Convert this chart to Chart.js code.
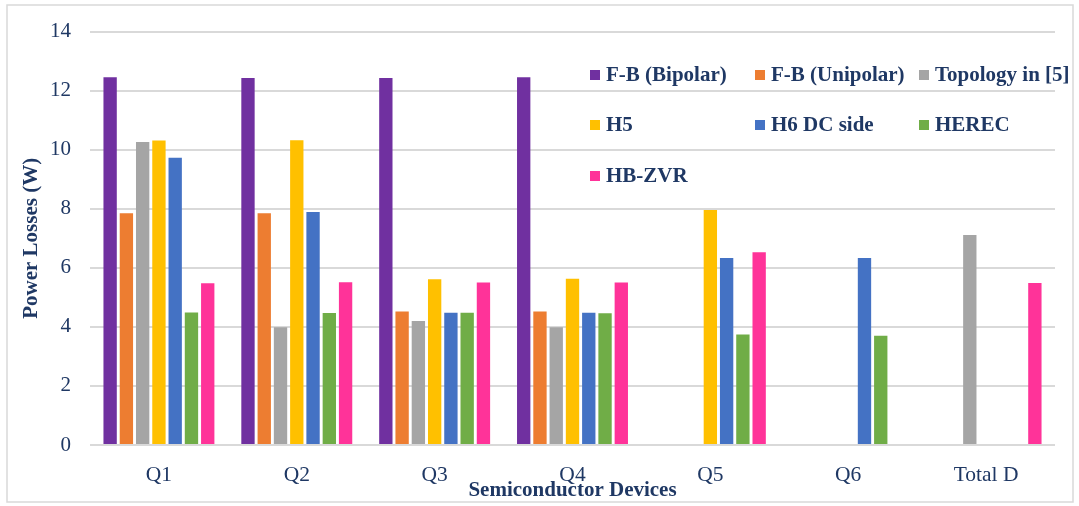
<!DOCTYPE html>
<html>
<head>
<meta charset="utf-8">
<title>Power Losses</title>
<script src="https://cdn.jsdelivr.net/npm/chart.js@4.4.1/dist/chart.umd.min.js"></script>
<style>
    html, body { margin: 0; padding: 0; background: #fff; }
    #wrap { width: 1079px; height: 506px; position: relative; }
</style>
</head>
<body>
<div id="wrap"><canvas id="lossChart"></canvas></div>
<script>
const devices = ['Q1', 'Q2', 'Q3', 'Q4', 'Q5', 'Q6', 'Total D']

const topologies = ['F-B (Bipolar)', 'F-B (Unipolar)', 'Topology in [5]', 'H5', 'H6 DC side', 'HEREC', 'HB-ZVR']

const fbBipolar  = [12.45, 12.43, 12.43, 12.45, null, null, null]
const fbUnipolar = [7.85, 7.85, 4.52, 4.52, null, null, null]
const topology5  = [10.26, 3.99, 4.2, 3.99, null, null, 7.11]
const h5         = [10.31, 10.32, 5.61, 5.63, 7.96, null, null]
const h6DcSide   = [9.73, 7.89, 4.48, 4.48, 6.33, 6.33, null]
const herec      = [4.49, 4.47, 4.48, 4.46, 3.74, 3.7, null]
const hbZvr      = [5.48, 5.51, 5.5, 5.5, 6.53, null, 5.49]

const yTicks = [0, 2, 4, 6, 8, 10, 12, 14]

const colors = ['#7030A0', '#ED7D31', '#A5A5A5', '#FFC000', '#4472C4', '#70AD47', '#FF3399']
const series = [fbBipolar, fbUnipolar, topology5, h5, h6DcSide, herec, hbZvr]

const ink = '#1F3864'
const serif = '"Liberation Serif", "Times New Roman", serif'

// legend sits inside the plot, three columns
const legendGrid = {
    cols: [590, 755, 919],
    rows: [75, 125, 176],
    box: 10,
    gap: 6
}

const insideLegend = {
    id: 'insideLegend',
    afterDraw(chart) {
        const { ctx } = chart
        ctx.save()
        ctx.font = `bold 21px ${serif}`
        ctx.textBaseline = 'middle'
        chart.data.datasets.forEach((ds, i) => {
            const x = legendGrid.cols[i % 3]
            const y = legendGrid.rows[Math.floor(i / 3)]
            ctx.fillStyle = ds.backgroundColor
            ctx.fillRect(x, y - legendGrid.box / 2, legendGrid.box, legendGrid.box)
            ctx.fillStyle = ink
            ctx.fillText(ds.label, x + legendGrid.box + legendGrid.gap, y + 1)
        })
        ctx.restore()
    }
}

const frame = {
    id: 'frame',
    afterDraw(chart) {
        const { ctx } = chart
        ctx.save()
        ctx.strokeStyle = '#D9D9D9'
        ctx.lineWidth = 1.5
        ctx.strokeRect(7, 5, 1066, 497)
        ctx.restore()
    }
}

new Chart(document.getElementById('lossChart'), {
    type: 'bar',
    data: {
        labels: devices,
        datasets: series.map((data, i) => ({
            label: topologies[i],
            data,
            backgroundColor: colors[i],
            borderWidth: 0,
            barPercentage: 0.82,
            categoryPercentage: 0.826
        }))
    },
    options: {
        responsive: true,
        maintainAspectRatio: false,
        animation: false,
        layout: { padding: { left: 0, right: 24, top: 20, bottom: 0 } },
        plugins: {
            legend: { display: false },
            tooltip: { enabled: false }
        },
        scales: {
            x: {
                grid: { display: false },
                border: { display: false },
                ticks: {
                    color: ink,
                    font: { family: serif, size: 21.5 },
                    padding: 9
                },
                title: {
                    display: true,
                    text: 'Semiconductor Devices',
                    color: ink,
                    font: { family: serif, size: 21, weight: 'bold' },
                    padding: { top: 0, bottom: 3 }
                },
                afterFit: (axis) => { axis.height = 61 }
            },
            y: {
                min: 0,
                max: 14,
                afterBuildTicks: (axis) => { axis.ticks = yTicks.map(value => ({ value })) },
                grid: { color: '#D9D9D9', lineWidth: 2, drawTicks: false },
                border: { display: false },
                ticks: {
                    color: ink,
                    font: { family: serif, size: 21 },
                    padding: 19
                },
                title: {
                    display: true,
                    text: 'Power Losses (W)',
                    color: ink,
                    font: { family: serif, size: 21, weight: 'bold' },
                    padding: { top: 19, bottom: 0 }
                },
                afterFit: (axis) => { axis.width = 90 }
            }
        }
    },
    plugins: [insideLegend, frame]
})
</script>
</body>
</html>
